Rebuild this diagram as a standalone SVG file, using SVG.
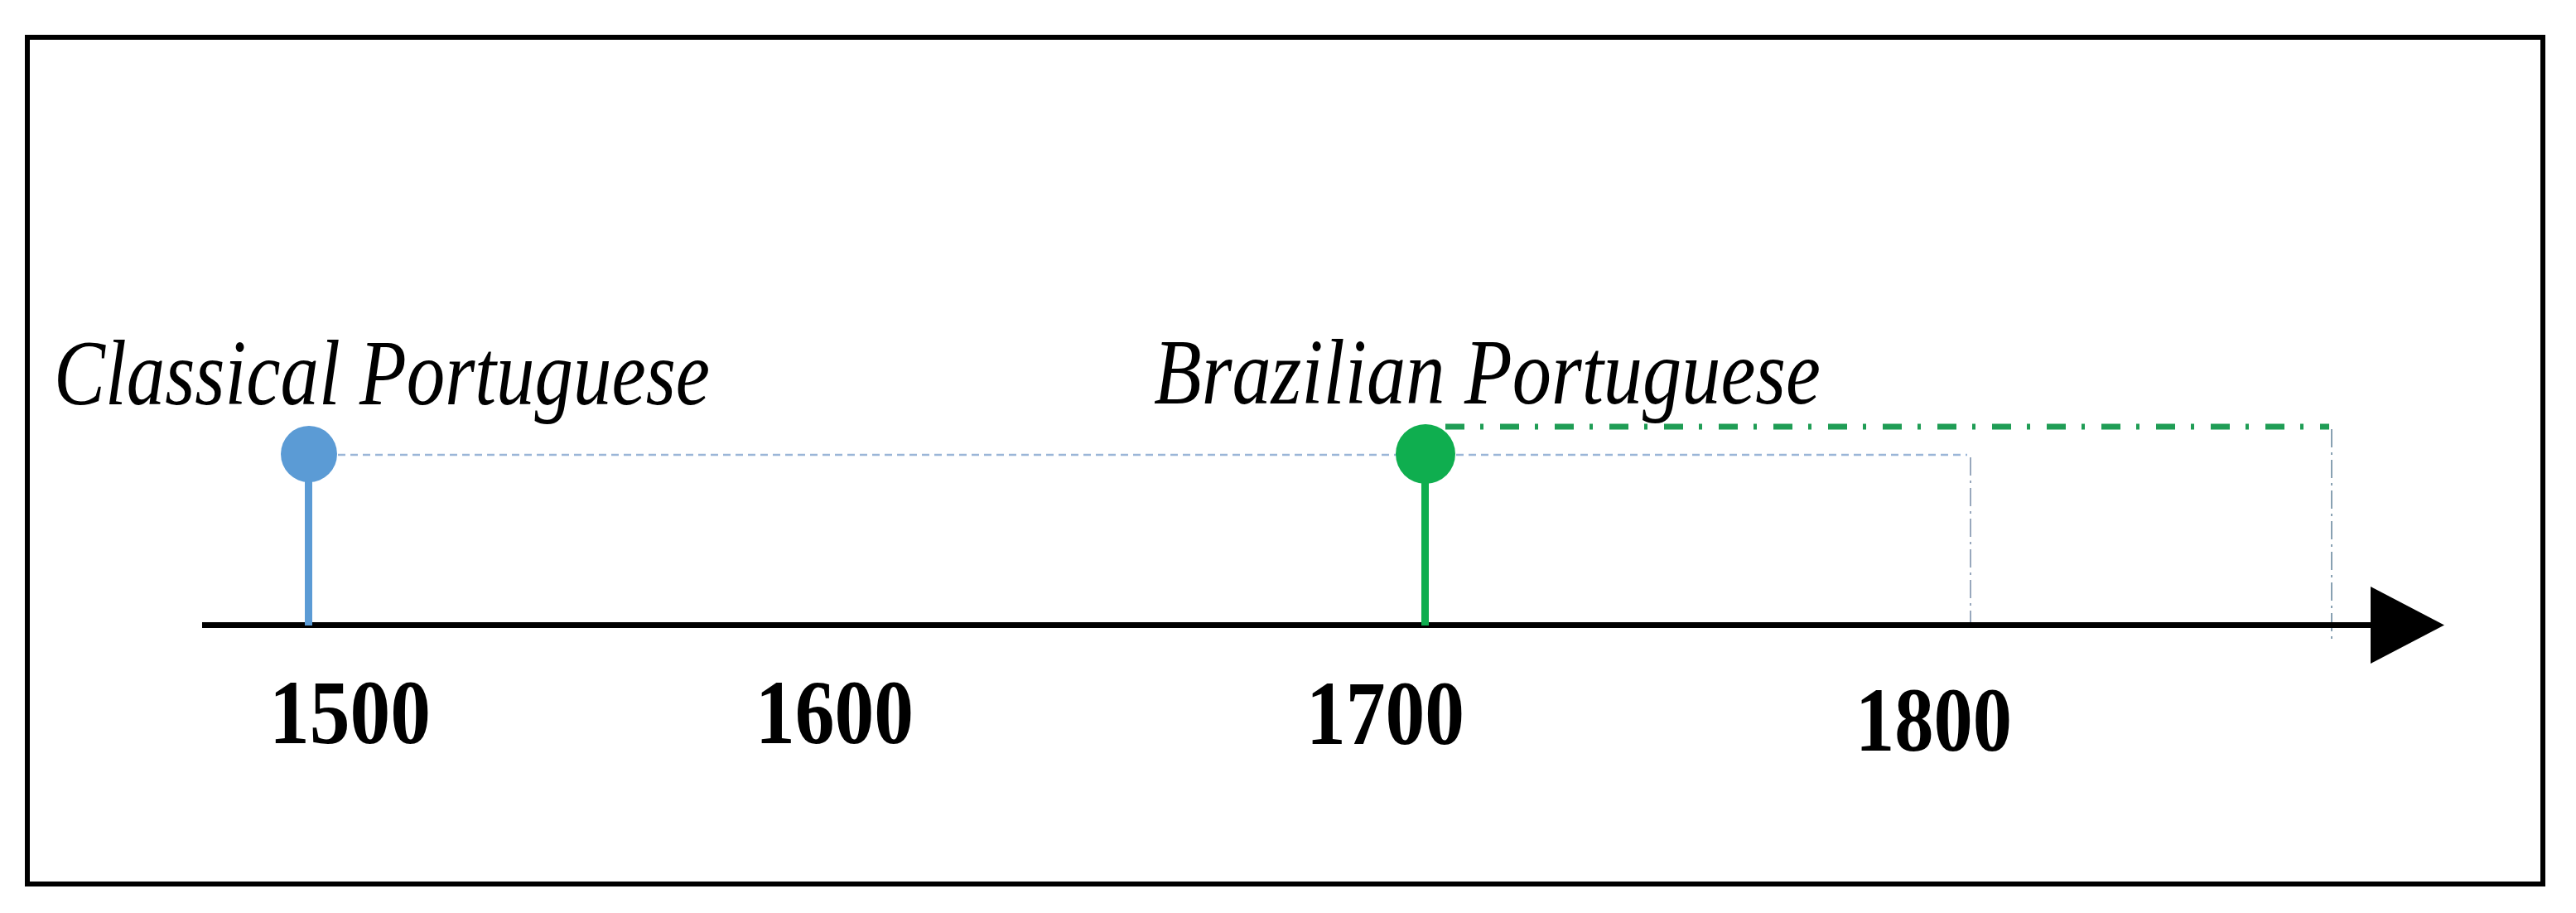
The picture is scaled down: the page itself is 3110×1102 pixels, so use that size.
<svg xmlns="http://www.w3.org/2000/svg" width="3110" height="1102" viewBox="0 0 3110 1102">
<style>
.lbl{font-family:"Liberation Serif","DejaVu Serif",serif;font-style:italic;font-size:112px;fill:#000}
.yr{font-family:"Liberation Serif","DejaVu Serif",serif;font-weight:bold;font-size:110px;fill:#000}
.blue{fill:#5b9bd5}
.green{fill:#0fae4f}
.bdash{fill:none;stroke:#9bb6d8;stroke-width:2.5;stroke-dasharray:9 6}
.bvert{fill:none;stroke:#7f93ad;stroke-width:1.6;stroke-dasharray:22 6 3 6}
.gdash{fill:none;stroke:#1f9d55;stroke-width:7;stroke-dasharray:23 19 4 20}
.gvert{fill:none;stroke:#6c8aa0;stroke-width:1.6;stroke-dasharray:22 6 3 6}
</style>
<rect x="0" y="0" width="3110" height="1102" fill="#fff"/>
<rect id="frame" x="33" y="45" width="3037" height="1022" fill="none" stroke="#000" stroke-width="6"/>
<g id="connectors">
  <path class="bdash" d="M408 549 H2375"/>
  <path class="bvert" d="M2379 552 V754"/>
  <path class="gdash" d="M1745 515 H2812"/>
  <path class="gvert" d="M2815 518 V772"/>
</g>
<g id="axis">
  <line x1="244" y1="754.5" x2="2866" y2="754.5" stroke="#000" stroke-width="7"/>
  <polygon points="2862,708 2951,754.5 2862,801" fill="#000"/>
</g>
<g id="classical">
  <rect class="blue" x="368" y="560" width="9" height="195"/>
  <circle class="blue" cx="373" cy="548" r="34"/>
  <text class="lbl" x="65" y="488" textLength="792" lengthAdjust="spacingAndGlyphs">Classical Portuguese</text>
</g>
<g id="brazilian">
  <rect class="green" x="1716" y="560" width="9" height="195"/>
  <circle class="green" cx="1721" cy="548" r="36"/>
  <text class="lbl" x="1393" y="487" textLength="805" lengthAdjust="spacingAndGlyphs">Brazilian Portuguese</text>
</g>
<g id="years">
  <text class="yr" x="325" y="897" textLength="195" lengthAdjust="spacingAndGlyphs">1500</text>
  <text class="yr" x="912" y="897" textLength="191" lengthAdjust="spacingAndGlyphs">1600</text>
  <text class="yr" x="1577" y="898" textLength="191" lengthAdjust="spacingAndGlyphs">1700</text>
  <text class="yr" x="2240" y="906" textLength="189" lengthAdjust="spacingAndGlyphs">1800</text>
</g>
</svg>
